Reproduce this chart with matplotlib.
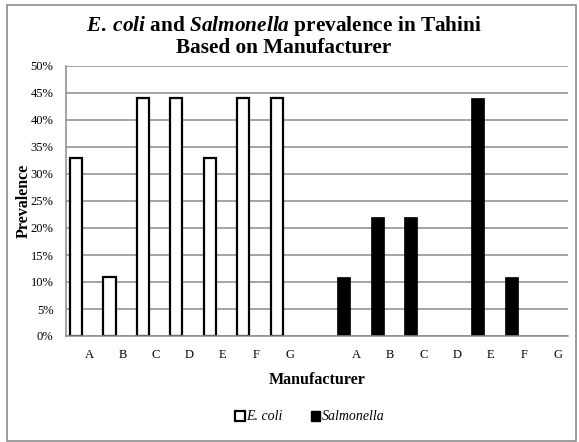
import matplotlib
matplotlib.use('Agg')
import matplotlib.pyplot as plt
from matplotlib.patches import Patch, Rectangle
import numpy as np

manufacturers = ['A', 'B', 'C', 'D', 'E', 'F', 'G']
ecoli = [33, 11, 44, 44, 33, 44, 44]
salmonella = [11, 22, 22, 0, 44, 11, 0]
yticks = [0, 5, 10, 15, 20, 25, 30, 35, 40, 45, 50]

plt.rcParams['font.family'] = ['Liberation Serif', 'DejaVu Serif']
plt.rcParams['mathtext.fontset'] = 'custom'
plt.rcParams['mathtext.rm'] = 'Liberation Serif:bold'
plt.rcParams['mathtext.it'] = 'Liberation Serif:italic:bold'
plt.rcParams['mathtext.bf'] = 'Liberation Serif:bold'

grid_col = '#8c8c8c'

fig = plt.figure(figsize=(5.79, 4.42), dpi=100)
ax = fig.add_axes([66/579, 1-336/442, (568-66)/579, (336-66)/442])

pos_e = np.arange(len(manufacturers))
pos_s = pos_e + len(manufacturers) + 1

ax.bar(pos_e - 0.2, ecoli, width=0.36, color='white', edgecolor='black', linewidth=1.6, zorder=3)
ax.bar(pos_s - 0.2, salmonella, width=0.39, color='black', edgecolor='black', linewidth=0.5, zorder=3)

ax.set_xlim(-0.5, pos_s[-1] + 0.5)
ax.set_ylim(0, 50)
ax.set_yticks(yticks)
ax.set_yticklabels([f'{v}%' for v in yticks], fontsize=9)
ax.set_xticks(np.concatenate([pos_e, pos_s]) + 0.19)
ax.set_xticklabels(manufacturers + manufacturers, fontsize=9)
ax.tick_params(axis='both', length=0)
ax.tick_params(axis='y', pad=9)
ax.tick_params(axis='x', pad=9)
ax.yaxis.grid(True, color=grid_col, linewidth=1.1)
ax.set_axisbelow(True)
for s in ['top', 'right']:
    ax.spines[s].set_visible(False)
for s in ['left', 'bottom']:
    ax.spines[s].set_color(grid_col)
    ax.spines[s].set_linewidth(1.1)
    ax.spines[s].set_zorder(4)

ax.set_ylabel('Prevalence', fontsize=11.5, fontweight='bold', labelpad=-1)
ax.set_xlabel('Manufacturer', fontsize=11.5, fontweight='bold', labelpad=8)

fig.text(284/579, 1-31/442, r'$\mathit{E.\:coli}$ and $\mathit{Salmonella}$ prevalence in Tahini',
         fontsize=15.3, fontweight='bold', ha='center', va='baseline')
fig.text(284/579, 1-53/442, 'Based on Manufacturer',
         fontsize=15.3, fontweight='bold', ha='center', va='baseline')

handles = [Patch(facecolor='white', edgecolor='black', linewidth=1.6),
           Patch(facecolor='black', edgecolor='black')]
fig.legend(handles, ['E. coli', 'Salmonella'], loc='center', bbox_to_anchor=(310/579, 1-417/442),
           ncol=2, frameon=False, prop={'style': 'italic', 'size': 10},
           handlelength=0.7, handleheight=0.7, handletextpad=0.1, columnspacing=2.0)

fig.add_artist(Rectangle((7/579, 1-441/442), 569/579, 436/442, transform=fig.transFigure,
                         fill=False, edgecolor='#8c8c8c', linewidth=1.2))

fig.savefig('out.png', dpi=100)
